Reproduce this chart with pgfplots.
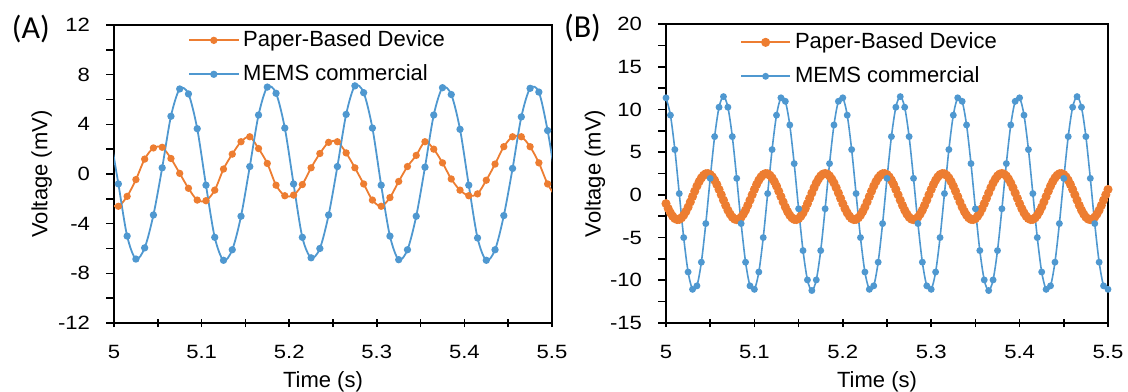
\documentclass[border=0pt]{standalone}
\usepackage{fontspec}
\setmainfont{Liberation Sans}
\newfontfamily\tickfont{Liberation Sans}[FakeStretch=1.15]
\newfontfamily\panelfont{Carlito}
\usepackage{pgfplots}
\pgfplotsset{compat=1.18}
\definecolor{orng}{RGB}{237,125,49}
\definecolor{blu}{RGB}{79,152,208}

\pgfplotsset{
  common/.style={
    scale only axis,
    anchor=south west,
    xmin=5, xmax=5.5,
    xtick={5,5.1,5.2,5.3,5.4,5.5},
    xticklabels={5,5.1,5.2,5.3,5.4,5.5},
    minor xtick={5.05,5.15,5.25,5.35,5.45},
    minor y tick num=1,
    xtick pos=bottom, ytick pos=left,
    tick align=outside,
    major tick length=4pt, minor tick length=4pt,
    x tick style={yshift=2pt},
    tick style={black, line width=0.8pt},
    axis line style={black, line width=1pt},
    tick label style={font=\tickfont\fontsize{9.6}{11}\selectfont, text=black},
    xticklabel style={yshift=-3.5pt},
    yticklabel style={xshift=-4.5pt},
    xlabel={Time (s)},
    ylabel={Voltage (mV)},
    label style={font=\fontsize{11}{13}\selectfont},
    xlabel style={at={(axis description cs:0.5,-0.2148)}, anchor=base, xshift=-5pt},
    legend style={draw=none, fill=none, anchor=north west, inner sep=0pt,
      font=\fontsize{11}{13}\selectfont, row sep=3.5pt, cells={anchor=west}},
    legend image code/.code={\draw[mark repeat=2,mark phase=2,#1] plot coordinates {(0pt,0pt) (12.25pt,0pt) (24.5pt,0pt)};},
  },
  oser/.style={orng, line width=0.9pt, smooth, mark=*, mark size=1.35pt, mark options={solid, fill=orng, draw=orng}},
  bser/.style={blu, line width=0.9pt, smooth, mark=*, mark size=1.35pt, mark options={solid, fill=blu, draw=blu}},
}

\begin{document}
\begin{tikzpicture}
\useasboundingbox (0,0) rectangle (564pt,195.5pt);

\begin{axis}[common,
  at={(57pt,34pt)}, width=219pt, height=149pt,
  ymin=-12, ymax=12,
  ytick={-12,-8,-4,0,4,8,12},
  yticklabels={-12,-8,-4,0,4,8,12},
  ylabel style={at={(axis description cs:-0.165,0.5)}, anchor=center},
  legend style={at={(axis description cs:0.1690,0.995)}},
]
\addplot[oser] coordinates {
(4.995,-2.45) (5.005,-2.60) (5.015,-1.80) (5.025,-0.45) (5.035,1.20) (5.045,2.10) (5.055,2.15) (5.065,1.25) (5.075,0.05) (5.085,-1.15)
(5.095,-2.10) (5.105,-2.15) (5.115,-1.30) (5.125,0.40) (5.135,1.60) (5.145,2.60) (5.155,3.00) (5.165,2.05) (5.175,0.85) (5.185,-0.90)
(5.195,-1.75) (5.205,-1.70) (5.215,-0.85) (5.225,0.50) (5.235,1.65) (5.245,2.55) (5.255,2.60) (5.265,1.70) (5.275,0.50) (5.285,-0.80)
(5.295,-2.10) (5.305,-2.60) (5.315,-1.90) (5.325,-0.60) (5.335,0.60) (5.345,1.50) (5.355,2.60) (5.365,2.00) (5.375,0.90) (5.385,-0.40)
(5.395,-1.30) (5.405,-1.75) (5.415,-1.60) (5.425,-0.50) (5.435,0.80) (5.445,2.20) (5.455,3.00) (5.465,3.00) (5.475,2.20) (5.485,0.90)
(5.495,-0.80) (5.505,-1.90)
};
\addlegendentry{Paper-Based Device}
\addplot[bser] coordinates {
(4.995,3.40) (5.005,-0.80) (5.015,-5.00) (5.025,-6.85) (5.035,-5.95) (5.045,-3.30) (5.055,0.50) (5.065,4.65) (5.075,6.85) (5.085,6.45)
(5.095,3.65) (5.105,-0.90) (5.115,-5.10) (5.125,-6.95) (5.135,-6.10) (5.145,-3.40) (5.155,0.60) (5.165,4.75) (5.175,7.00) (5.185,6.50)
(5.195,3.70) (5.205,-0.80) (5.215,-5.10) (5.225,-6.75) (5.235,-6.00) (5.245,-3.30) (5.255,0.60) (5.265,4.80) (5.275,7.10) (5.285,6.55)
(5.295,3.70) (5.305,-0.90) (5.315,-5.00) (5.325,-6.90) (5.335,-6.10) (5.345,-3.40) (5.355,0.55) (5.365,4.75) (5.375,6.95) (5.385,6.40)
(5.395,3.60) (5.405,-0.90) (5.415,-5.15) (5.425,-6.95) (5.435,-6.10) (5.445,-3.35) (5.455,0.45) (5.465,4.60) (5.475,6.90) (5.485,6.60)
(5.495,3.50) (5.505,-0.80)
};
\addlegendentry{MEMS commercial}
\end{axis}

\begin{axis}[common,
  at={(333pt,34pt)}, width=221pt, height=149.5pt,
  ymin=-15, ymax=20,
  ytick={-15,-10,-5,0,5,10,15,20},
  yticklabels={-15,-10,-5,0,5,10,15,20},
  ylabel style={at={(axis description cs:-0.161,0.5)}, anchor=center},
  legend style={at={(axis description cs:0.1670,0.985)}},
]
\addplot[oser, mark size=1.8pt] coordinates {
(5.0000,-1.03) (5.0025,-1.61) (5.0050,-2.11) (5.0075,-2.50) (5.0100,-2.77) (5.0125,-2.89) (5.0150,-2.87) (5.0175,-2.69) (5.0200,-2.38) (5.0225,-1.95)
(5.0250,-1.43) (5.0275,-0.83) (5.0300,-0.20) (5.0325,0.43) (5.0350,1.03) (5.0375,1.55) (5.0400,1.98) (5.0425,2.29) (5.0450,2.47) (5.0475,2.49)
(5.0500,2.37) (5.0525,2.10) (5.0550,1.71) (5.0575,1.21) (5.0600,0.63) (5.0625,0.01) (5.0650,-0.62) (5.0675,-1.23) (5.0700,-1.79) (5.0725,-2.25)
(5.0750,-2.61) (5.0775,-2.83) (5.0800,-2.90) (5.0825,-2.83) (5.0850,-2.61) (5.0875,-2.25) (5.0900,-1.79) (5.0925,-1.23) (5.0950,-0.62) (5.0975,0.01)
(5.1000,0.63) (5.1025,1.21) (5.1050,1.71) (5.1075,2.10) (5.1100,2.37) (5.1125,2.49) (5.1150,2.47) (5.1175,2.29) (5.1200,1.98) (5.1225,1.55)
(5.1250,1.03) (5.1275,0.43) (5.1300,-0.20) (5.1325,-0.83) (5.1350,-1.43) (5.1375,-1.95) (5.1400,-2.38) (5.1425,-2.69) (5.1450,-2.87) (5.1475,-2.89)
(5.1500,-2.77) (5.1525,-2.50) (5.1550,-2.11) (5.1575,-1.61) (5.1600,-1.03) (5.1625,-0.41) (5.1650,0.22) (5.1675,0.83) (5.1700,1.39) (5.1725,1.85)
(5.1750,2.21) (5.1775,2.43) (5.1800,2.50) (5.1825,2.43) (5.1850,2.21) (5.1875,1.85) (5.1900,1.39) (5.1925,0.83) (5.1950,0.22) (5.1975,-0.41)
(5.2000,-1.03) (5.2025,-1.61) (5.2050,-2.11) (5.2075,-2.50) (5.2100,-2.77) (5.2125,-2.89) (5.2150,-2.87) (5.2175,-2.69) (5.2200,-2.38) (5.2225,-1.95)
(5.2250,-1.43) (5.2275,-0.83) (5.2300,-0.20) (5.2325,0.43) (5.2350,1.03) (5.2375,1.55) (5.2400,1.98) (5.2425,2.29) (5.2450,2.47) (5.2475,2.49)
(5.2500,2.37) (5.2525,2.10) (5.2550,1.71) (5.2575,1.21) (5.2600,0.63) (5.2625,0.01) (5.2650,-0.62) (5.2675,-1.23) (5.2700,-1.79) (5.2725,-2.25)
(5.2750,-2.61) (5.2775,-2.83) (5.2800,-2.90) (5.2825,-2.83) (5.2850,-2.61) (5.2875,-2.25) (5.2900,-1.79) (5.2925,-1.23) (5.2950,-0.62) (5.2975,0.01)
(5.3000,0.63) (5.3025,1.21) (5.3050,1.71) (5.3075,2.10) (5.3100,2.37) (5.3125,2.49) (5.3150,2.47) (5.3175,2.29) (5.3200,1.98) (5.3225,1.55)
(5.3250,1.03) (5.3275,0.43) (5.3300,-0.20) (5.3325,-0.83) (5.3350,-1.43) (5.3375,-1.95) (5.3400,-2.38) (5.3425,-2.69) (5.3450,-2.87) (5.3475,-2.89)
(5.3500,-2.77) (5.3525,-2.50) (5.3550,-2.11) (5.3575,-1.61) (5.3600,-1.03) (5.3625,-0.41) (5.3650,0.22) (5.3675,0.83) (5.3700,1.39) (5.3725,1.85)
(5.3750,2.21) (5.3775,2.43) (5.3800,2.50) (5.3825,2.43) (5.3850,2.21) (5.3875,1.85) (5.3900,1.39) (5.3925,0.83) (5.3950,0.22) (5.3975,-0.41)
(5.4000,-1.03) (5.4025,-1.61) (5.4050,-2.11) (5.4075,-2.50) (5.4100,-2.77) (5.4125,-2.89) (5.4150,-2.87) (5.4175,-2.69) (5.4200,-2.38) (5.4225,-1.95)
(5.4250,-1.43) (5.4275,-0.83) (5.4300,-0.20) (5.4325,0.43) (5.4350,1.03) (5.4375,1.55) (5.4400,1.98) (5.4425,2.29) (5.4450,2.47) (5.4475,2.49)
(5.4500,2.37) (5.4525,2.10) (5.4550,1.71) (5.4575,1.21) (5.4600,0.63) (5.4625,0.01) (5.4650,-0.62) (5.4675,-1.23) (5.4700,-1.79) (5.4725,-2.25)
(5.4750,-2.61) (5.4775,-2.83) (5.4800,-2.90) (5.4825,-2.83) (5.4850,-2.61) (5.4875,-2.25) (5.4900,-1.79) (5.4925,-1.23) (5.4950,-0.62) (5.4975,0.01)
(5.5000,0.63)
};
\addlegendentry{Paper-Based Device}
\addplot[bser, mark size=1.3pt, line width=0.8pt] coordinates {
(5.000,11.36) (5.005,9.33) (5.010,5.30) (5.015,0.15) (5.020,-5.00) (5.025,-9.03) (5.030,-11.06) (5.035,-10.65) (5.040,-7.88) (5.045,-3.36)
(5.050,1.93) (5.055,6.82) (5.060,10.26) (5.065,11.50) (5.070,10.26) (5.075,6.82) (5.080,1.93) (5.085,-3.36) (5.090,-7.88) (5.095,-10.65)
(5.100,-11.06) (5.105,-9.03) (5.110,-5.00) (5.115,0.15) (5.120,5.30) (5.125,9.33) (5.130,11.36) (5.135,10.95) (5.140,8.18) (5.145,3.66)
(5.150,-1.63) (5.155,-6.52) (5.160,-9.96) (5.165,-11.20) (5.170,-9.96) (5.175,-6.52) (5.180,-1.63) (5.185,3.66) (5.190,8.18) (5.195,10.95)
(5.200,11.36) (5.205,9.33) (5.210,5.30) (5.215,0.15) (5.220,-5.00) (5.225,-9.03) (5.230,-11.06) (5.235,-10.65) (5.240,-7.88) (5.245,-3.36)
(5.250,1.93) (5.255,6.82) (5.260,10.26) (5.265,11.50) (5.270,10.26) (5.275,6.82) (5.280,1.93) (5.285,-3.36) (5.290,-7.88) (5.295,-10.65)
(5.300,-11.06) (5.305,-9.03) (5.310,-5.00) (5.315,0.15) (5.320,5.30) (5.325,9.33) (5.330,11.36) (5.335,10.95) (5.340,8.18) (5.345,3.66)
(5.350,-1.63) (5.355,-6.52) (5.360,-9.96) (5.365,-11.20) (5.370,-9.96) (5.375,-6.52) (5.380,-1.63) (5.385,3.66) (5.390,8.18) (5.395,10.95)
(5.400,11.36) (5.405,9.33) (5.410,5.30) (5.415,0.15) (5.420,-5.00) (5.425,-9.03) (5.430,-11.06) (5.435,-10.65) (5.440,-7.88) (5.445,-3.36)
(5.450,1.93) (5.455,6.82) (5.460,10.26) (5.465,11.50) (5.470,10.26) (5.475,6.82) (5.480,1.93) (5.485,-3.36) (5.490,-7.88) (5.495,-10.65)
(5.500,-11.06)
};
\addlegendentry{MEMS commercial}
\end{axis}

\node[font=\panelfont\fontsize{16}{19}\selectfont] at (15.4pt,180.9pt) {(A)};
\node[font=\panelfont\fontsize{16}{19}\selectfont] at (291.25pt,181.3pt) {(B)};
\end{tikzpicture}
\end{document}
